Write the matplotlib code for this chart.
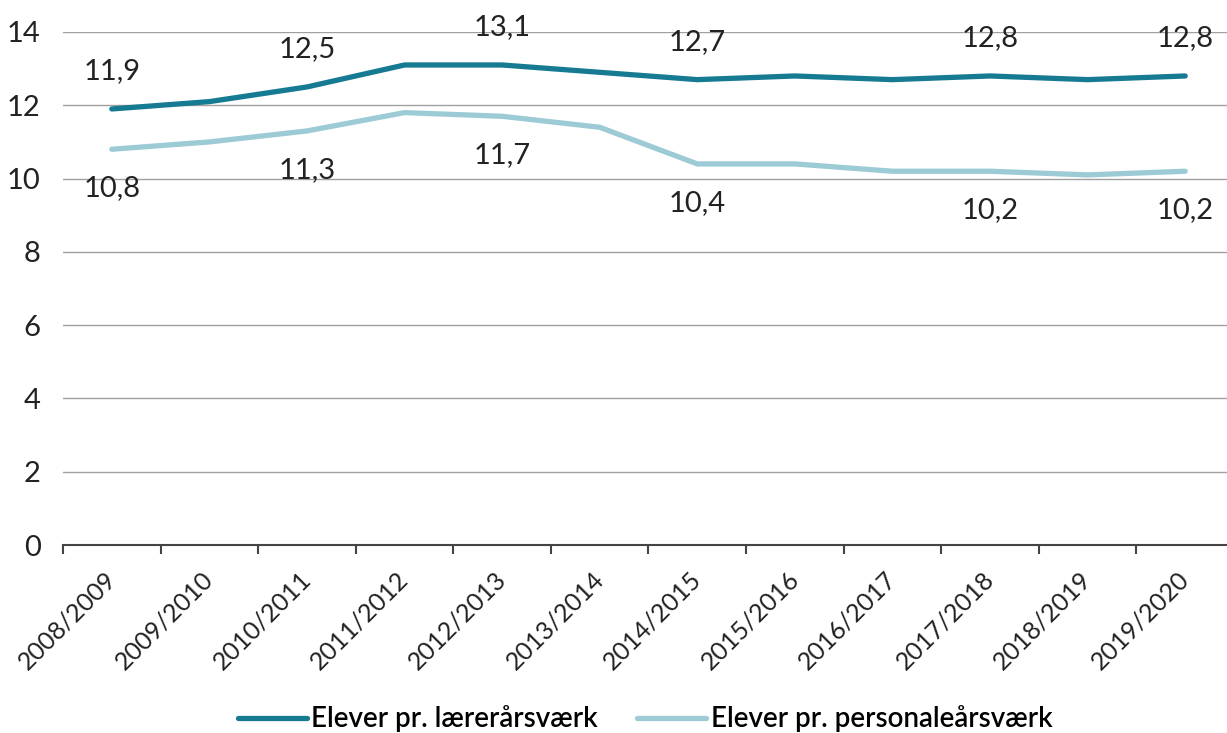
import numpy as np
import matplotlib.pyplot as plt
from matplotlib.ticker import FixedLocator

plt.rcParams['font.family'] = ['Lato', 'DejaVu Sans']

years = ["2008/2009", "2009/2010", "2010/2011", "2011/2012", "2012/2013", "2013/2014",
         "2014/2015", "2015/2016", "2016/2017", "2017/2018", "2018/2019", "2019/2020"]
teacher = [11.9, 12.1, 12.5, 13.1, 13.1, 12.9, 12.7, 12.8, 12.7, 12.8, 12.7, 12.8]
staff = [10.8, 11.0, 11.3, 11.8, 11.7, 11.4, 10.4, 10.4, 10.2, 10.2, 10.1, 10.2]
label_idx = [0, 2, 4, 6, 9, 11]

dark = "#167a93"
light = "#9ccbd6"

fig = plt.figure(figsize=(12.27, 7.33), dpi=100)
ax = fig.add_axes([63 / 1227, 188 / 733, 1171 / 1227, 513 / 733])

x = np.arange(len(years))
ax.plot(x, teacher, color=dark, lw=3.8, solid_capstyle='round', label="Elever pr. lærerårsværk", zorder=3)
ax.plot(x, staff, color=light, lw=3.8, solid_capstyle='round', label="Elever pr. personaleårsværk", zorder=3)

for i in label_idx:
    ax.annotate(f"{teacher[i]:.1f}".replace(".", ","), (x[i], teacher[i]), xytext=(0, 27),
                textcoords='offset points', ha='center', va='center', fontsize=21, color="#222222")
    ax.annotate(f"{staff[i]:.1f}".replace(".", ","), (x[i], staff[i]), xytext=(0, -28),
                textcoords='offset points', ha='center', va='center', fontsize=21, color="#222222")

ax.set_xlim(-0.5, len(years) - 0.5)
ax.set_ylim(0, 14)
ax.set_yticks(range(0, 15, 2))
ax.yaxis.grid(True, color="#a0a0a0", lw=1)
ax.set_axisbelow(True)
for s in ['top', 'right', 'left']:
    ax.spines[s].set_visible(False)
ax.spines['bottom'].set_color("#444444")
ax.spines['bottom'].set_linewidth(1.5)
ax.spines['bottom'].set_zorder(4)

ax.tick_params(axis='y', length=0, pad=16, labelsize=21, labelcolor="#222222")
ax.set_xticks(x)
ax.set_xticklabels(years, rotation=45, ha='right', va='center', rotation_mode='anchor',
                   fontsize=18, color="#222222")
ax.tick_params(axis='x', which='major', length=0, pad=22)
ax.xaxis.set_minor_locator(FixedLocator(np.arange(-0.5, len(years), 1.0)))
ax.tick_params(axis='x', which='minor', length=6.5, width=1.5, color="#444444")

fig.legend(loc='center', bbox_to_anchor=(645 / 1227, 14 / 733), ncol=2, frameon=False,
           prop={'size': 20, 'weight': 'semibold'}, handlelength=2.5, handletextpad=0.15,
           columnspacing=1.4)

fig.savefig("out.png", dpi=100)
